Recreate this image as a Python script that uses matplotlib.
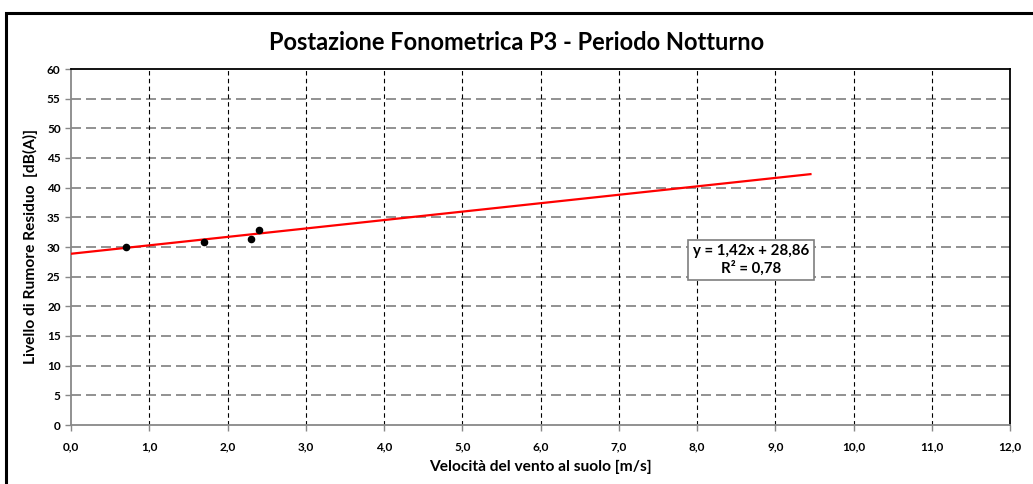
import matplotlib.pyplot as plt
from matplotlib.patches import Rectangle
from matplotlib.ticker import FuncFormatter

# misure notturne P3
vento = [0.7, 1.7, 2.3, 2.4]
rumore = [30.0, 30.8, 31.4, 32.9]

# retta di regressione
pendenza = 1.42
intercetta = 28.86
r2 = 0.78
x_retta = [0.0, 9.45]

plt.rcParams['font.family'] = ['Lato', 'DejaVu Sans']

fig = plt.figure(figsize=(10.33, 4.84), dpi=100)
ax = fig.add_axes([71 / 1033, 1 - 425 / 484, (1010 - 71) / 1033, (425 - 69) / 484])

# cornice esterna del grafico
fig.patches.append(Rectangle((6 / 1033, -0.1), 1.1, 1 - 13 / 484 + 0.1,
                             transform=fig.transFigure, fill=False,
                             edgecolor='black', linewidth=2.2))

y_retta = [pendenza * x + intercetta for x in x_retta]
ax.plot(x_retta, y_retta, color='#ff0000', linewidth=1.6, zorder=3)
ax.scatter(vento, rumore, s=20, color='black', zorder=4)

ax.set_xlim(0, 12)
ax.set_ylim(0, 60)
ax.set_xticks(range(0, 13))
ax.set_yticks(range(0, 61, 5))
ax.xaxis.set_major_formatter(FuncFormatter(lambda v, p: f'{v:.1f}'.replace('.', ',')))

for y in range(5, 60, 5):
    ax.axhline(y, color='#7f7f7f', linestyle=(0, (6, 3)), linewidth=1.2, zorder=1)
for x in range(1, 12):
    ax.axvline(x, color='black', linestyle=(0, (4, 3)), linewidth=0.8, zorder=1)

for s in ['left', 'bottom']:
    ax.spines[s].set_color('#888888')
    ax.spines[s].set_linewidth(1.3)
for s in ['top', 'right']:
    ax.spines[s].set_color('black')
    ax.spines[s].set_linewidth(1.3)

ax.tick_params(axis='both', colors='#888888', labelcolor='black', length=4, width=1)
ax.tick_params(axis='x', pad=8)
for lab in ax.get_xticklabels() + ax.get_yticklabels():
    lab.set_fontweight('bold')
    lab.set_fontsize(8.5)

ax.set_xlabel('Velocità del vento al suolo [m/s]', fontsize=11.2, fontweight='bold', labelpad=5)
ax.set_ylabel('Livello di Rumore Residuo  [dB(A)]', fontsize=11.2, fontweight='bold', labelpad=6)

fig.text(0.5, 1 - 42 / 484, 'Postazione Fonometrica P3 - Periodo Notturno',
         ha='center', va='center', fontsize=17, fontweight='bold')

eq = f'y = {pendenza:.2f}x + {intercetta:.2f}\nR² = {r2:.2f}'.replace('.', ',')
ax.text(8.69, 27.8, eq, ha='center', va='center', fontsize=10.8, fontweight='bold',
        linespacing=1.2, zorder=5,
        bbox=dict(boxstyle='square,pad=0.3', facecolor='white', edgecolor='#7f7f7f', linewidth=1.2))

plt.savefig('out.png', dpi=100)
